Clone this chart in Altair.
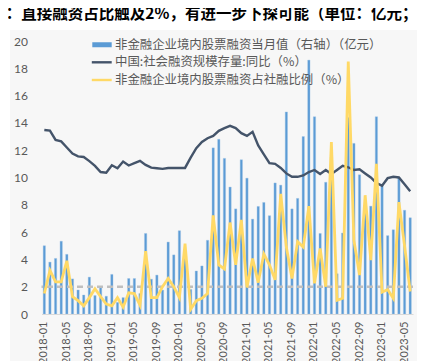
import altair as alt
import pandas as pd

# ---------------- data ----------------
months = [f"{y}-{m:02d}" for y in range(2018, 2024) for m in range(1, 13)][:66]

# 非金融企业境内股票融资当月值（亿元，右轴）
equity_financing = [
    500, 380, 407, 533, 437, 257, 176, 139, 270, 135, 193, 130,
    290, 85, 120, 260, 260, 150, 590, 255, 285, 175, 527, 433,
    610, 440, 180, 315, 352, 540, 1217, 1280, 1140, 930, 770, 1130,
    995, 695, 788, 817, 720, 960, 944, 1480, 770, 847, 1300, 1860,
    1445, 590, 965, 1150, 295, 593, 1440, 1250, 1020, 790, 790, 1445,
    942, 574, 617, 1000, 760, 705,
]

# 中国:社会融资规模存量:同比（%）
sf_stock_yoy = [
    13.48, 13.43, 12.75, 12.65, 12.2, 11.75, 11.55, 11.5, 11.2, 10.85, 10.4, 10.35,
    10.9, 10.68, 11.17, 10.88, 11.05, 11.22, 10.92, 10.72, 10.68, 10.63, 10.7, 10.7,
    10.7, 10.7, 11.45, 12.15, 12.6, 12.88, 13.05, 13.42, 13.62, 13.78, 13.62, 13.25,
    13.05, 13.35, 12.35, 11.7, 11.05, 11.0, 10.7, 10.3, 10.05, 10.05, 10.15, 10.4,
    10.55, 10.25, 10.55, 10.25, 10.55, 10.85, 10.75, 10.55, 10.6, 10.3, 10.0, 9.6,
    9.4, 9.95, 10.05, 10.0, 9.5, 9.0,
]

# 非金融企业境内股票融资占社融比例（%）
equity_share = [
    1.5, 3.2, 2.35, 2.35, 3.9, 1.27, 0.98, 0.6, 1.2, 1.85, 1.27, 0.73,
    0.6, 1.2, 0.5, 1.55, 1.5, 0.65, 4.6, 1.2, 1.2, 2.0, 2.6, 2.0,
    1.2, 5.15, 0.35, 0.98, 1.15, 1.5, 7.22, 3.6, 3.3, 6.7, 3.6, 6.9,
    1.95, 4.07, 2.3, 4.4, 3.6, 2.5, 8.8, 4.9, 2.6, 5.3, 4.9, 7.9,
    2.25, 4.8, 2.0, 12.6, 1.0, 1.15, 18.5, 5.4, 2.85, 8.7, 3.95, 11.0,
    1.6, 1.8, 1.15, 8.2, 5.0, 1.65,
]

x_ticks = months[::4]
y_ticks = list(range(0, 21, 2))
ref_level = [2]
legend_labels = [
    "非金融企业境内股票融资当月值（右轴）（亿元）",
    "中国:社会融资规模存量:同比（%）",
    "非金融企业境内股票融资占社融比例（%）",
]
title_text = "图4：直接融资占比触及2%，有进一步下探可能（单位：亿元；%）"

# ---------------- style ----------------
BLUE = "#5B9BD5"
DARK = "#44546A"
YELLOW = "#FFD966"
GREY_TXT = "#595959"
CJK = "Noto Sans CJK SC"
W, H = 371.5, 273

df = pd.DataFrame({"month": months, "equity": equity_financing,
                   "yoy": sf_stock_yoy, "share": equity_share})
one = pd.DataFrame({"k": [0]})

x_enc = alt.X(
    "month:O",
    scale=alt.Scale(domain=months, paddingInner=0, paddingOuter=0),
    axis=alt.Axis(values=x_ticks, labelAngle=270, ticks=False, domainColor="#D9D9D9",
                  domainWidth=1, labelColor=GREY_TXT, labelFontSize=11, labelFont="Lato",
                  labelPadding=7, title=None, grid=False, zindex=1),
)
left_scale = alt.Scale(domain=[0, 20], nice=False, zero=True)

panel = alt.Chart(one).mark_rect(color="#F7F7F7").encode(
    x=alt.value(-31.5), x2=alt.value(W + 60), y=alt.value(-11), y2=alt.value(H + 80))

bars = alt.Chart(df).mark_bar(size=2.3, color=BLUE, stroke="#9CC2E6", strokeWidth=0.4).encode(
    x=x_enc,
    y=alt.Y("equity:Q", scale=alt.Scale(domain=[0, 2000], nice=False), axis=None),
)

ref = alt.Chart(pd.DataFrame({"ref": ref_level})).mark_rule(
    color="#BFBFBF", strokeWidth=2.5, strokeDash=[6, 4]).encode(
    y=alt.Y("ref:Q", scale=left_scale, axis=None))

dark = alt.Chart(df).mark_line(color=DARK, strokeWidth=2.4).encode(
    x=x_enc,
    y=alt.Y("yoy:Q", scale=left_scale,
            axis=alt.Axis(orient="left", values=y_ticks, ticks=False, domain=False, grid=False,
                          labelColor=GREY_TXT, labelFontSize=12, labelFont="Lato",
                          labelPadding=14, title=None, zindex=1)),
)

yellow = alt.Chart(df).mark_line(color=YELLOW, strokeWidth=2.8).encode(
    x=x_enc,
    y=alt.Y("share:Q", scale=left_scale, axis=None),
)

leg_rect = alt.Chart(one).mark_rect(color=BLUE).encode(
    x=alt.value(50.8), x2=alt.value(70.2), y=alt.value(1.2), y2=alt.value(6.2))
leg_dark = alt.Chart(one).mark_rule(color=DARK, strokeWidth=2.4).encode(
    x=alt.value(50.3), x2=alt.value(70.2), y=alt.value(21.3))
leg_yel = alt.Chart(one).mark_rule(color=YELLOW, strokeWidth=2.4).encode(
    x=alt.value(50.3), x2=alt.value(70.2), y=alt.value(39))

leg_texts = [
    alt.Chart(one).mark_text(text=lab, align="left", baseline="middle", font=CJK,
                             fontSize=12.4, color=GREY_TXT).encode(
        x=alt.value(73.5), y=alt.value(yy))
    for lab, yy in zip(legend_labels, [3.5, 21.3, 39])
]

title = alt.Chart(one).mark_text(text=title_text, align="left", baseline="middle", font=CJK,
                                 fontSize=15.5, fontWeight="bold", color="#000000").encode(
    x=alt.value(-60.3), y=alt.value(-27))

chart = alt.layer(panel, bars, ref, dark, yellow, leg_rect, leg_dark, leg_yel, *leg_texts, title
).resolve_scale(y="independent").properties(
    width=W, height=H,
    autosize=alt.AutoSizeParams(type="none"),
    padding={"left": 33.5, "top": 33, "right": 4, "bottom": 47},
    background="#FFFFFF",
).configure_view(strokeWidth=0).configure_axis(grid=False)

chart.save("out.html", embed_options={"renderer": "svg", "actions": False})
